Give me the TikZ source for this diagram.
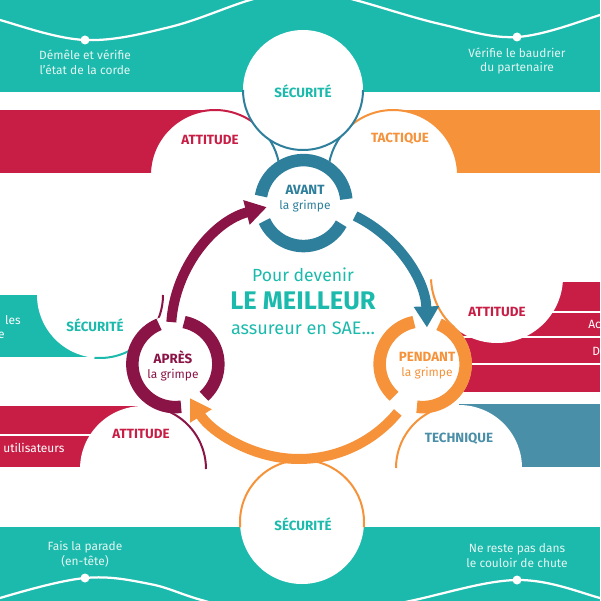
\documentclass[tikz,border=0pt]{standalone}
\usepackage{fontspec}
\setmainfont{Fira Sans}
\usetikzlibrary{arrows.meta}

\definecolor{secteal}{HTML}{1BBAAC}
\definecolor{attred}{HTML}{C81E46}
\definecolor{tacorange}{HTML}{F5923A}
\definecolor{avblue}{HTML}{2E7F9C}
\definecolor{techblue}{HTML}{4A8FA8}
\definecolor{apviolet}{HTML}{8B1446}
\definecolor{softwhite}{HTML}{E4F6F3}

\begin{document}
\begin{tikzpicture}[x=0.02cm,y=-0.02cm,
        bandtext/.style={text=softwhite,align=center,inner sep=0pt,font=\fontsize{6.8}{8.5}\selectfont},
        topic/.style={inner sep=0pt,font=\fontsize{7.6}{9}\selectfont\bfseries},
        ringtext/.style={align=center,inner sep=0pt,font=\fontsize{6.8}{8.5}\selectfont},
        ring/.style={line width=0.25cm},
        outline/.style={line width=0.04cm},
        wave/.style={white,line width=0.045cm},
        cyclearrow/.style={line width=0.2cm,-{Triangle[length=0.42cm,width=0.48cm]}}]
        \useasboundingbox (0,0) rectangle (600,601);
        \clip (0,0) rectangle (600,601);
        \fill[secteal] (0,0) rectangle (600,92);
        \draw[wave] plot[smooth,tension=0.6] coordinates {(-30,8) (0,20) (85,40) (170,27) (250,0) (303,-12) (355,0) (440,24) (517,37) (600,15) (630,2)};
        \fill[white] (85,40) circle (4.5);
        \fill[white] (517,37) circle (4.5);
        \node[bandtext] (corde) at (85,62) {Démêle et vérifie\\l'état de la corde};
        \node[bandtext] (baudrier) at (517,61) {Vérifie le baudrier\\du partenaire};
        \fill[attred] (0,110) rectangle (215,173);
        \fill[tacorange] (393,110) rectangle (600,173);
        \fill[secteal] (0,295) rectangle (100,357);
        \fill[attred] (0,406) rectangle (143,467);
        \fill[attred] (450,282) rectangle (600,392);
        \fill[techblue] (459,404) rectangle (600,467);
        \draw[white,outline] (0,435) -- (143,435);
        \foreach \y in {312,337,364}
            \draw[white,outline] (450,\y) -- (600,\y);
        \node[bandtext,text=white,anchor=east] (les) at (21,320) {les};
        \node[bandtext,text=white,anchor=east] (lese) at (5,335) {e};
        \node[bandtext,text=white,anchor=west] (usagers) at (3,448) {utilisateurs};
        \node[bandtext,text=white,anchor=west] (ac) at (588,324) {Ac};
        \node[bandtext,text=white,anchor=west] (dd) at (592,351) {D};
        \coordinate (att1) at (215,175);
        \coordinate (tac) at (393,175);
        \coordinate (sec1) at (303,90);
        \coordinate (sec2) at (100,295);
        \coordinate (att2) at (143,469);
        \coordinate (att3) at (497,277);
        \coordinate (tech) at (459,468);
        \coordinate (sec3) at (302,522);
        \fill[white] (att1) circle (65);
        \draw[outline,attred] (att1) ++(182:65) arc[start angle=182,end angle=318,radius=65];
        \draw[outline,avblue] (att1) ++(318:65) arc[start angle=318,end angle=360,radius=65];
        \fill[white] (tac) circle (65);
        \draw[outline,avblue] (tac) ++(180:65) arc[start angle=180,end angle=222,radius=65];
        \draw[outline,tacorange] (tac) ++(222:65) arc[start angle=222,end angle=358,radius=65];
        \fill[white] (sec1) circle (60);
        \draw[outline,avblue] (sec1) ++(0:60) arc[start angle=0,end angle=180,radius=60];
        \fill[white] (sec2) circle (63);
        \draw[outline,apviolet] (sec2) ++(0:63) arc[start angle=0,end angle=45,radius=63];
        \draw[outline,secteal] (sec2) ++(45:63) arc[start angle=45,end angle=95,radius=63];
        \fill[white] (att2) circle (63);
        \draw[outline,apviolet] (att2) ++(296:63) arc[start angle=296,end angle=360,radius=63];
        \fill[white] (att3) circle (66);
        \draw[outline,tacorange] (att3) ++(130:66) arc[start angle=130,end angle=178,radius=66];
        \fill[white] (tech) circle (63);
        \draw[outline,tacorange] (tech) ++(180:63) arc[start angle=180,end angle=245,radius=63];
        \fill[secteal] (0,527) rectangle (600,601);
        \draw[wave] plot[smooth,tension=0.6] coordinates {(-30,612) (0,598) (85,578) (150,584) (205,601) (303,625) (410,601) (517,580) (600,598) (630,610)};
        \fill[white] (85,578) circle (4.5);
        \fill[white] (517,580) circle (4.5);
        \node[bandtext] (parade) at (85,554) {Fais la parade\\(en-tête)};
        \node[bandtext] (couloir) at (517,556) {Ne reste pas dans\\le couloir de chute};
        \fill[white] (sec3) circle (62);
        \draw[outline,tacorange] (sec3) ++(175:62) arc[start angle=175,end angle=365,radius=62];
        \coordinate (cyc) at (299,331);
        \path (cyc) ++(272:128) coordinate (ringav);
        \path (cyc) ++(15:128) coordinate (ringpe);
        \path (cyc) ++(165:128) coordinate (ringap);
        \fill[white] (ringav) circle (49);
        \draw[ring,avblue] (ringav) ++(28.67:43) arc[start angle=28.67,end angle=155.33,radius=43];
        \draw[ring,avblue] (ringav) ++(189.33:43) arc[start angle=189.33,end angle=354.67,radius=43];
        \fill[white] (ringpe) circle (49);
        \draw[ring,tacorange] (ringpe) ++(131.67:43) arc[start angle=131.67,end angle=258.33,radius=43];
        \draw[ring,tacorange] (ringpe) ++(292.33:43) arc[start angle=292.33,end angle=457.67,radius=43];
        \fill[white] (ringap) circle (49);
        \draw[ring,apviolet] (ringap) ++(82.33:43) arc[start angle=82.33,end angle=247.67,radius=43];
        \draw[ring,apviolet] (ringap) ++(281.67:43) arc[start angle=281.67,end angle=408.33,radius=43];
        \path (cyc) ++(296:128) coordinate (avout);
        \path (cyc) ++(39.5:128) coordinate (peout);
        \path (cyc) ++(184:128) coordinate (apout);
        \draw[cyclearrow,avblue] (avout) arc[start angle=296,end angle=358.4,radius=128];
        \draw[cyclearrow,tacorange] (peout) arc[start angle=39.5,end angle=148.4,radius=128];
        \draw[cyclearrow,apviolet] (apout) arc[start angle=184,end angle=255.4,radius=128];
        \node[topic,secteal] (tsec1) at (303,91) {SÉCURITÉ};
        \node[topic,attred] (tatt1) at (210,140) {ATTITUDE};
        \node[topic,tacorange] (ttac) at (400,139) {TACTIQUE};
        \node[topic,secteal] (tsec2) at (95,325) {SÉCURITÉ};
        \node[topic,attred] (tatt3) at (497,312) {ATTITUDE};
        \node[topic,attred] (tatt2) at (141,434) {ATTITUDE};
        \node[topic,techblue] (ttech) at (459,439) {TECHNIQUE};
        \node[topic,secteal] (tsec3) at (303,524) {SÉCURITÉ};
        \node[ringtext,avblue] (avant) at (305,199) {{\fontsize{7.6}{8.5}\selectfont\bfseries AVANT}\\la grimpe};
        \node[ringtext,tacorange] (pendant) at (427,366) {{\fontsize{7.6}{8.5}\selectfont\bfseries PENDANT}\\la grimpe};
        \node[ringtext,apviolet] (apres) at (173,366) {{\fontsize{7.6}{8.5}\selectfont\bfseries APRÈS}\\la grimpe};
        \node[secteal,inner sep=0pt,font=\fontsize{10}{12}\selectfont] (devenir) at (303,275) {Pour devenir};
        \node[secteal,inner sep=0pt,font=\fontsize{14.5}{16}\selectfont\bfseries] (meilleur) at (303,301) {LE MEILLEUR};
        \node[secteal,inner sep=0pt,font=\fontsize{10.3}{12}\selectfont] (assureur) at (303,328) {assureur en SAE…};
\end{tikzpicture}
\end{document}
